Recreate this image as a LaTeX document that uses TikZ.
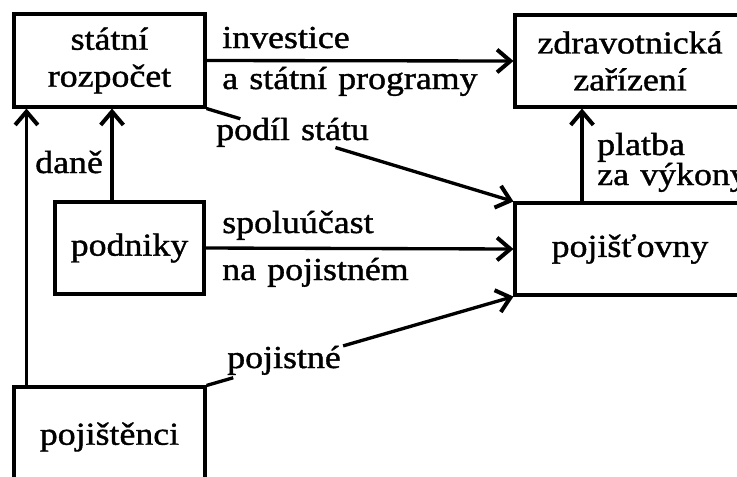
\documentclass[tikz,border=0pt]{standalone}
\usepackage{fontspec}
\setmainfont{Liberation Serif}[FakeStretch=1.12,FakeBold=1.2,WordSpace=1.25]
\usetikzlibrary{arrows.meta,calc}
\begin{document}
\begin{tikzpicture}[x=0.75pt,y=-0.75pt,
  every node/.style={font=\fontsize{24pt}{27.75pt}\selectfont},
  box/.style={draw,line width=2.3pt,rectangle,align=center,inner sep=0pt},
  lab/.style={anchor=base west,inner sep=0pt},
  conn/.style={line width=2.5pt},
  arr/.style={conn,-{Straight Barb[length=10pt,width=17pt,line width=3pt]}}]
\useasboundingbox (0,0) rectangle (737,476);
% boxes
\node[box,minimum width=143.25pt,minimum height=69.75pt] (rozp) at (109.5,60.5) {státní\\rozpočet};
\node[box,minimum width=172.5pt,minimum height=69pt] (zdrav) at (630,61) {zdravotnická\\zařízení};
\node[box,minimum width=172.5pt,minimum height=69pt] (pojist) at (630,249) {pojišťovny};
\node[box,minimum width=111.75pt,minimum height=69pt] (podn) at (129.5,248) {podniky};
\node[box,minimum width=143.25pt,minimum height=75pt] (pojt) at (109.5,437) {pojištěnci};
% investice
\draw[arr] (rozp.east) -- (zdrav.west);
\node[lab] (l-inv) at (222,48) {investice};
\node[lab] (l-asp) at (222,89) {a státní programy};
% podíl státu
\coordinate (ps1) at ($(rozp.south east)!0.11!(pojist.north west)$);
\coordinate (ps2) at ($(rozp.south east)!0.42!(pojist.north west)$);
\draw[conn] (rozp.south east) -- (ps1);
\draw[arr] (ps2) -- (pojist.north west);
\node[lab] (l-ps) at (216,140) {podíl státu};
% daně
\coordinate (d1) at ([xshift=-13.1pt]podn.north);
\draw[arr] (d1) -- (d1 |- rozp.south);
\node[lab] (l-dane) at (35,173) {daně};
% left line from pojištěnci
\coordinate (p1) at ([xshift=10.5pt]pojt.north west);
\draw[arr] (p1) -- (p1 |- rozp.south);
% spoluúčast
\draw[arr] (podn.east) -- (pojist.west);
\node[lab] (l-sp) at (222,233) {spoluúčast};
\node[lab] (l-np) at (222,280) {na pojistném};
% platba
\coordinate (pl) at ([xshift=-36pt]pojist.north);
\draw[arr] (pl) -- (pl |- zdrav.south);
\node[lab] (l-pl1) at (597,155) {platba};
\node[lab] (l-pl2) at (597,185) {za výkony};
% pojistné
\coordinate (pj1) at ($(pojt.north east)!0.087!(pojist.south west)$);
\coordinate (pj2) at ($(pojt.north east)!0.445!(pojist.south west)$);
\draw[conn] (pojt.north east) -- (pj1);
\draw[arr] (pj2) -- (pojist.south west);
\node[lab] (l-pj) at (227,368) {pojistné};
\end{tikzpicture}
\end{document}
